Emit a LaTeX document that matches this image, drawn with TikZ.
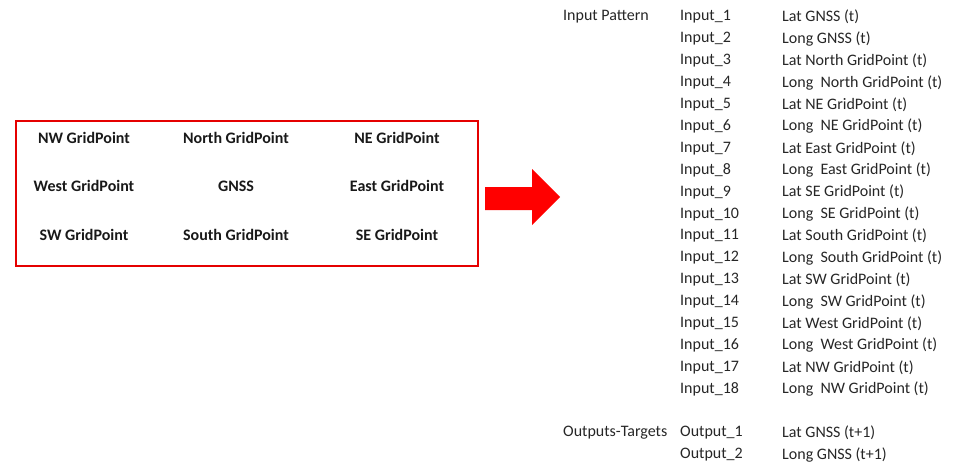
\documentclass[tikz,border=0pt]{standalone}
\usepackage{fontspec}
\setmainfont{Carlito}
\begin{document}
\begin{tikzpicture}[x=1pt,y=-1pt,
  txt/.style={inner sep=0pt,font=\fontsize{16}{19}\selectfont,text=black!85},
  grid/.style={txt,font=\fontsize{16}{19}\selectfont\bfseries,text=black!90},
  col/.style={txt,anchor=west},
  frame/.style={draw=red!90!black,line width=2pt},
  bigarrow/.style={fill=red,draw=none}]
\useasboundingbox (0,0) rectangle (958,466);

% grid of points inside the red frame
\draw[frame] (16,121) rectangle (478,266);
\node[grid] (nw) at (84,138) {NW GridPoint};
\node[grid] (n)  at (236,138) {North GridPoint};
\node[grid] (ne) at (397,138) {NE GridPoint};
\node[grid] (w)  at (84,186) {West GridPoint};
\node[grid] (c)  at (236,186) {GNSS};
\node[grid] (e)  at (397,186) {East GridPoint};
\node[grid] (sw) at (84,235) {SW GridPoint};
\node[grid] (s)  at (236,235) {South GridPoint};
\node[grid] (se) at (397,235) {SE GridPoint};

% block arrow
\fill[bigarrow] (485,187) -- (532,187) -- (532,169) -- (560,197)
  -- (532,225) -- (532,210) -- (485,210) -- cycle;

% input pattern table
\node[col] (inlab) at (563,17) {Input Pattern};
\foreach \i/\d in {1/Lat GNSS (t),2/Long GNSS (t),3/Lat North GridPoint (t),
  4/Long\ \ North GridPoint (t),5/Lat NE GridPoint (t),6/Long\ \ NE GridPoint (t),
  7/Lat East GridPoint (t),8/Long\ \ East GridPoint (t),9/Lat SE GridPoint (t),
  10/Long\ \ SE GridPoint (t),11/Lat South GridPoint (t),12/Long\ \ South GridPoint (t),
  13/Lat SW GridPoint (t),14/Long\ \ SW GridPoint (t),15/Lat West GridPoint (t),
  16/Long\ \ West GridPoint (t),17/Lat NW GridPoint (t),18/Long\ \ NW GridPoint (t)}{
  \node[col] (in\i) at (680,{17+(\i-1)*21.9}) {Input\_\i};
  \node[col] (desc\i) at (782,{17+(\i-1)*21.9}) {\d};
}

% outputs
\node[col] (outlab) at (563,433) {Outputs-Targets};
\node[col] (out1) at (680,433) {Output\_1};
\node[col] (odesc1) at (782,433) {Lat GNSS (t+1)};
\node[col] (out2) at (680,455) {Output\_2};
\node[col] (odesc2) at (782,455) {Long GNSS (t+1)};
\end{tikzpicture}
\end{document}
